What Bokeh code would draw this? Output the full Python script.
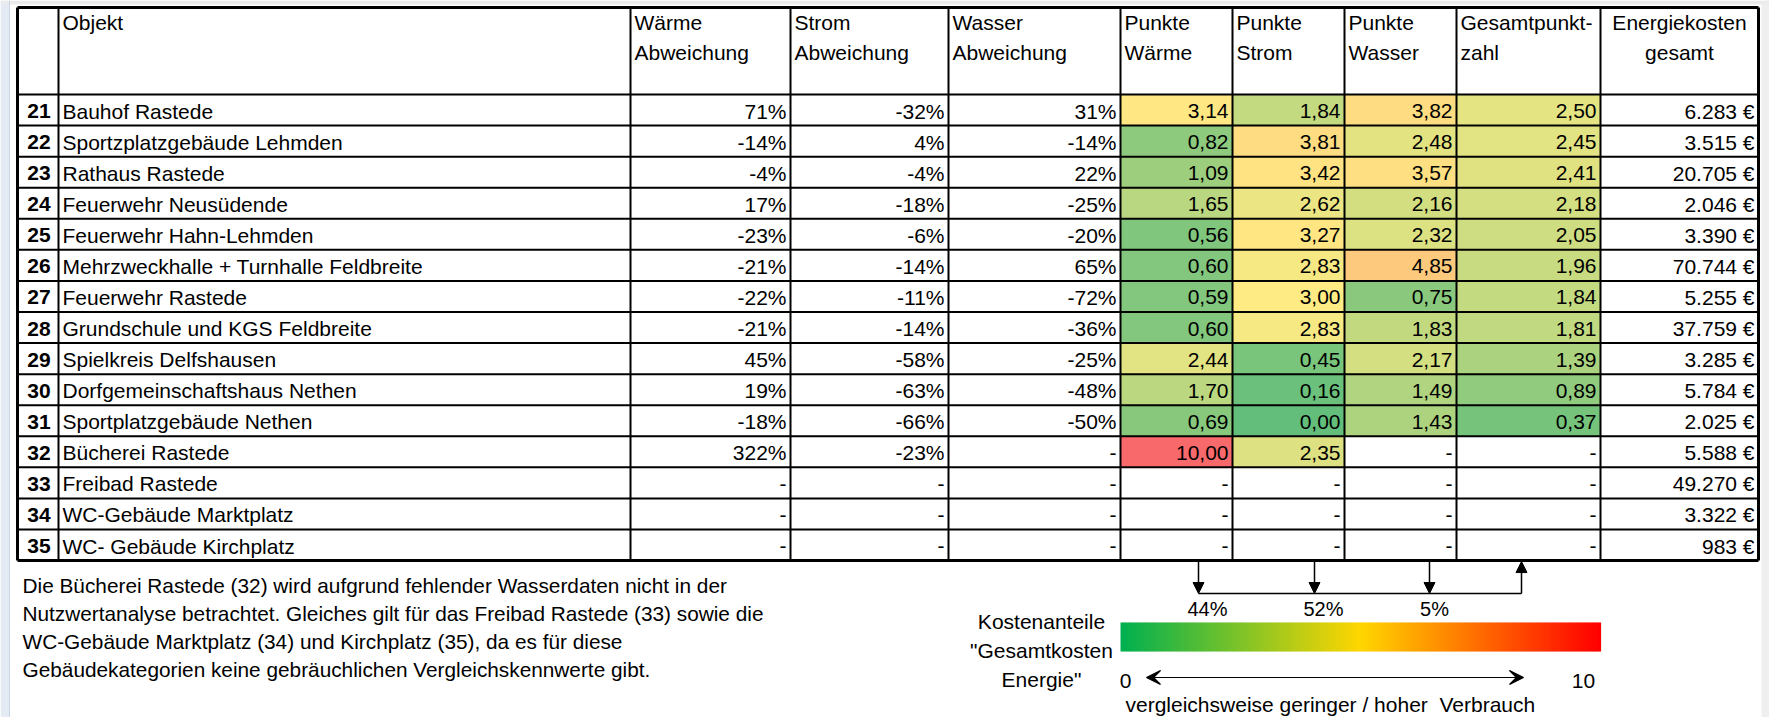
import math
from bokeh.plotting import figure
from bokeh.models import Range1d, ColumnDataSource, Arrow, NormalHead, VeeHead
from bokeh.core.properties import value
from bokeh.embed import file_html
from bokeh.resources import INLINE

# ---------------- data ----------------
nums = list(range(21, 36))
objects = ["Bauhof Rastede", "Sportzplatzgebäude Lehmden", "Rathaus Rastede",
           "Feuerwehr Neusüdende", "Feuerwehr Hahn-Lehmden",
           "Mehrzweckhalle + Turnhalle Feldbreite", "Feuerwehr Rastede",
           "Grundschule und KGS Feldbreite", "Spielkreis Delfshausen",
           "Dorfgemeinschaftshaus Nethen", "Sportplatzgebäude Nethen",
           "Bücherei Rastede", "Freibad Rastede", "WC-Gebäude Marktplatz",
           "WC- Gebäude Kirchplatz"]
N = None
waerme_abw = [71, -14, -4, 17, -23, -21, -22, -21, 45, 19, -18, 322, N, N, N]
strom_abw = [-32, 4, -4, -18, -6, -14, -11, -14, -58, -63, -66, -23, N, N, N]
wasser_abw = [31, -14, 22, -25, -20, 65, -72, -36, -25, -48, -50, N, N, N, N]
pkt_waerme = [3.14, 0.82, 1.09, 1.65, 0.56, 0.60, 0.59, 0.60, 2.44, 1.70, 0.69, 10.00, N, N, N]
pkt_strom = [1.84, 3.81, 3.42, 2.62, 3.27, 2.83, 3.00, 2.83, 0.45, 0.16, 0.00, 2.35, N, N, N]
pkt_wasser = [3.82, 2.48, 3.57, 2.16, 2.32, 4.85, 0.75, 1.83, 2.17, 1.49, 1.43, N, N, N, N]
gesamt = [2.50, 2.45, 2.41, 2.18, 2.05, 1.96, 1.84, 1.81, 1.39, 0.89, 0.37, N, N, N, N]
kosten = [6283, 3515, 20705, 2046, 3390, 70744, 5255, 37759, 3285, 5784, 2025, 5588, 49270, 3322, 983]

headers = ["", "Objekt", "Wärme\nAbweichung", "Strom\nAbweichung", "Wasser\nAbweichung",
           "Punkte\nWärme", "Punkte\nStrom", "Punkte\nWasser", "Gesamtpunkt-\nzahl",
           "Energiekosten\ngesamt"]
kostenanteile = ["44%", "52%", "5%"]
note_lines = ["Die Bücherei Rastede (32) wird aufgrund fehlender Wasserdaten nicht in der",
              "Nutzwertanalyse betrachtet. Gleiches gilt für das Freibad Rastede (33) sowie die",
              "WC-Gebäude Marktplatz (34) und Kirchplatz (35), da es für diese",
              "Gebäudekategorien keine gebräuchlichen Vergleichskennwerte gibt."]
legend_title = ["Kostenanteile", "\"Gesamtkosten", "Energie\""]
scale_min, scale_max = 0, 10

# ---------------- layout ----------------
FONT = "Liberation Sans"
FS = "21px"
W, H = 1769, 717
p = figure(width=W, height=H, output_backend="svg", toolbar_location=None,
           x_range=Range1d(0, W), y_range=Range1d(H, 0),
           x_axis_location=None, y_axis_location=None, min_border=0)
p.grid.visible = False
p.outline_line_color = None
p.background_fill_color = "white"
p.border_fill_color = "white"

# window frame decoration
p.quad(left=[0], right=[9], top=[0], bottom=[H], fill_color="#e4ebf4", line_color=None)
p.quad(left=[1761], right=[W], top=[0], bottom=[H], fill_color="#efefef", line_color=None)
p.quad(left=[0], right=[W], top=[0], bottom=[4], fill_color="#ebebeb", line_color=None)
p.segment([9], [0], [9], [H], line_color="#c9d5e4", line_width=1)

col_edges = [17, 58, 630, 790, 948, 1120, 1232, 1344, 1456, 1600, 1758]
top = 7
head_bot = 94
row_h = 31.07
n = len(nums)
row_edges = [head_bot + i * row_h for i in range(n + 1)]
bottom = row_edges[-1]


def fmt_pct(v):
    return "-" if v is None else f"{v}%"


def fmt_pt(v):
    return "-" if v is None else f"{v:.2f}".replace(".", ",")


def fmt_eur(v):
    return f"{v:,}".replace(",", ".") + " €"


def lerp(a, b, t):
    return tuple(int(round(a[i] + (b[i] - a[i]) * t)) for i in range(3))


G, Y, R = (99, 190, 123), (255, 235, 132), (248, 105, 107)
MID = 3.0


def cell_color(v):
    if v <= MID:
        c = lerp(G, Y, (v - scale_min) / (MID - scale_min))
    else:
        c = lerp(Y, R, min(1.0, (v - MID) / (scale_max - MID)))
    return "#%02x%02x%02x" % c


# colored cells
ql, qr, qt, qb, qc = [], [], [], [], []
for ci, series in zip([5, 6, 7, 8], [pkt_waerme, pkt_strom, pkt_wasser, gesamt]):
    for ri, v in enumerate(series):
        if v is None:
            continue
        ql.append(col_edges[ci]); qr.append(col_edges[ci + 1])
        qt.append(row_edges[ri]); qb.append(row_edges[ri + 1]); qc.append(cell_color(v))
p.quad(left=ql, right=qr, top=qt, bottom=qb, fill_color=qc, line_color=None)

# grid lines
sx0, sy0, sx1, sy1 = [], [], [], []
for x in col_edges[1:-1]:
    sx0.append(x); sx1.append(x); sy0.append(top); sy1.append(bottom)
for y in row_edges[:-1]:
    sx0.append(col_edges[0]); sx1.append(col_edges[-1]); sy0.append(y); sy1.append(y)
p.segment(sx0, sy0, sx1, sy1, line_color="black", line_width=2)
# outer border
p.segment([col_edges[0], col_edges[0], col_edges[-1], col_edges[0]],
          [top, top, top, bottom],
          [col_edges[-1], col_edges[0], col_edges[-1], col_edges[-1]],
          [top, bottom, bottom, bottom], line_color="black", line_width=3)

# header text
hx, hy, ht, ha = [], [], [], []
for ci, h in enumerate(headers):
    if not h:
        continue
    lines = h.split("\n")
    for li, t in enumerate(lines):
        if ci == 9:
            hx.append((col_edges[ci] + col_edges[ci + 1]) / 2); ha.append("center")
        else:
            hx.append(col_edges[ci] + 4); ha.append("left")
        hy.append(top + 15 + li * 30); ht.append(t)
p.text(x=hx, y=hy, text=ht, text_align=ha, text_baseline="middle",
       text_font=value(FONT), text_font_size=FS, text_color="black")

# body text
rc = [(row_edges[i] + row_edges[i + 1]) / 2 + 1 for i in range(n)]
p.text(x=[(col_edges[0] + col_edges[1]) / 2 + 1] * n, y=rc, text=[str(v) for v in nums],
       text_align="center", text_baseline="middle", text_font=value(FONT),
       text_font_size=FS, text_font_style="bold", text_color="black")
p.text(x=[col_edges[1] + 4] * n, y=rc, text=objects, text_align="left",
       text_baseline="middle", text_font=value(FONT), text_font_size=FS, text_color="black")
cols = [(2, waerme_abw, fmt_pct), (3, strom_abw, fmt_pct), (4, wasser_abw, fmt_pct),
        (5, pkt_waerme, fmt_pt), (6, pkt_strom, fmt_pt), (7, pkt_wasser, fmt_pt),
        (8, gesamt, fmt_pt), (9, kosten, fmt_eur)]
tx, ty, tt = [], [], []
for ci, series, f in cols:
    for ri, v in enumerate(series):
        tx.append(col_edges[ci + 1] - 4); ty.append(rc[ri]); tt.append(f(v))
p.text(x=tx, y=ty, text=tt, text_align="right", text_baseline="middle",
       text_font=value(FONT), text_font_size=FS, text_color="black")

# note
p.text(x=[22] * len(note_lines), y=[585 + 28 * i for i in range(len(note_lines))],
       text=note_lines, text_align="left", text_baseline="middle",
       text_font=value(FONT), text_font_size="20.8px", text_color="black")

# cost share arrows
arrow_x = [col_edges[6] - 34, col_edges[7] - 30, col_edges[8] - 27]
up_x = col_edges[8] + 65
line_y = 593
for ax in arrow_x:
    p.add_layout(Arrow(end=NormalHead(size=11, fill_color="black", line_color="black"),
                       x_start=ax, y_start=bottom, x_end=ax, y_end=line_y,
                       line_color="black", line_width=1.5))
p.add_layout(Arrow(end=NormalHead(size=11, fill_color="black", line_color="black"),
                   x_start=up_x, y_start=line_y, x_end=up_x, y_end=bottom + 1,
                   line_color="black", line_width=1.5))
p.segment([arrow_x[0]], [line_y], [up_x], [line_y], line_color="black", line_width=1.5)
p.text(x=[ax + 9 for ax in arrow_x[:2]] + [arrow_x[2] + 5], y=[608] * 3, text=kostenanteile,
       text_align="center", text_baseline="middle", text_font=value(FONT),
       text_font_size="20px", text_color="black")

# gradient bar
gx0, gx1 = col_edges[5], col_edges[9]
steps = 240
C0, C1, C2 = (0, 176, 80), (255, 214, 0), (255, 0, 0)
bl, br, bc = [], [], []
for i in range(steps):
    t = i / (steps - 1)
    c = lerp(C0, C1, t / 0.5) if t <= 0.5 else lerp(C1, C2, (t - 0.5) / 0.5)
    bl.append(gx0 + (gx1 - gx0) * i / steps)
    br.append(gx0 + (gx1 - gx0) * (i + 1) / steps + 0.6)
    bc.append("#%02x%02x%02x" % c)
p.quad(left=bl, right=br, top=[622] * steps, bottom=[651] * steps,
       fill_color=bc, line_color=None)

p.text(x=[1041] * 3, y=[621, 650, 679], text=legend_title, text_align="center",
       text_baseline="middle", text_font=value(FONT), text_font_size="21px", text_color="black")
p.text(x=[gx0 + 5, 1583], y=[680, 680], text=[str(scale_min), str(scale_max)],
       text_align="center", text_baseline="middle", text_font=value(FONT),
       text_font_size="21px", text_color="black")
p.add_layout(Arrow(start=VeeHead(size=14, line_color="black", line_width=1.2),
                   end=VeeHead(size=14, line_color="black", line_width=1.2),
                   x_start=1146, y_start=677, x_end=1523, y_end=677,
                   line_color="black", line_width=1.2))
p.text(x=[gx0 + 5], y=[704], text=["vergleichsweise geringer / hoher\u00a0 Verbrauch"],
       text_align="left", text_baseline="middle", text_font=value(FONT),
       text_font_size="21px", text_color="black")

open("out.html", "w").write(file_html(p, INLINE))
